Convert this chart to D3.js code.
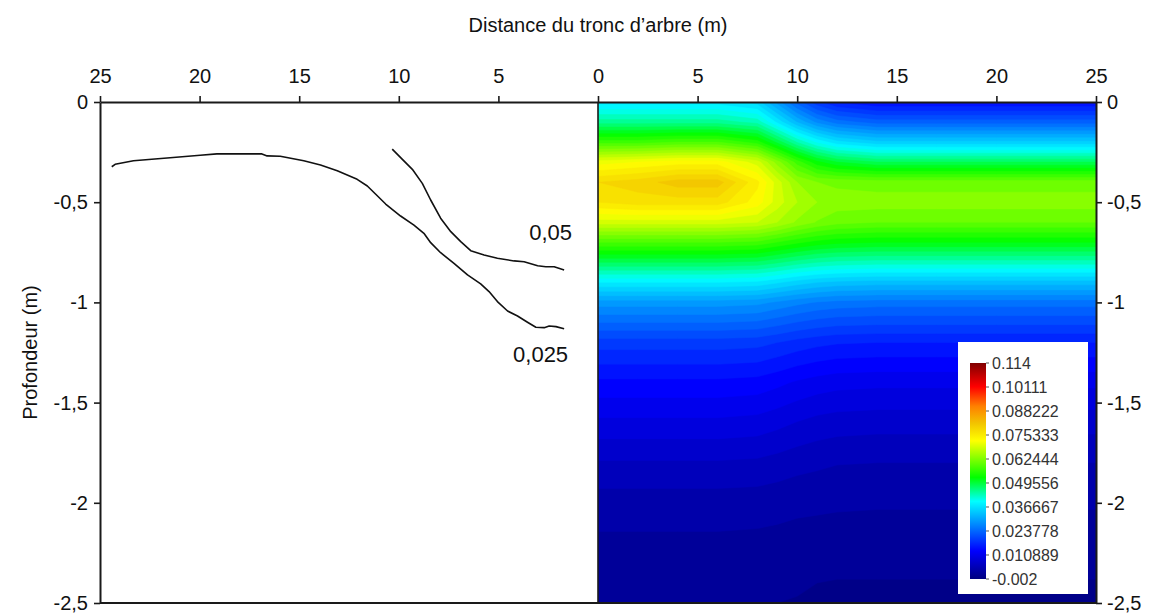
<!DOCTYPE html>
<html><head><meta charset="utf-8">
<script src="https://cdn.jsdelivr.net/npm/d3@7"></script>
<style>
body{margin:0;background:#fff;}
text{font-family:"Liberation Sans",Arial,sans-serif;}
</style>
</head><body>
<svg id="chart" width="1158" height="615"></svg>
<script>
// ---------- data ----------
const xTickValues = [-25,-20,-15,-10,-5,0,5,10,15,20,25];
const yTickValues = [0,-0.5,-1,-1.5,-2,-2.5];
const legendTicks = [0.114,0.10111,0.088222,0.075333,0.062444,0.049556,0.036667,0.023778,0.010889,-0.002];
const legendLabels = ["0.114","0.10111","0.088222","0.075333","0.062444","0.049556","0.036667","0.023778","0.010889","-0.002"];

// right panel: gridded values (rows = depth, columns = distance)
const gridDistances = [0,2,4,6,8,9,10,11,12,14,17,20,25];
const gridDepths = [0,-0.1,-0.2,-0.3,-0.4,-0.5,-0.6,-0.7,-0.8,-0.9,-1.0,-1.2,-1.4,-1.6,-1.8,-2.0,-2.2,-2.4,-2.5];
const gridValues = [
  [.037,.037,.037,.037,.035,.0290,.0230,.0185,.0157,.014,.014,.014,.014],
  [.045,.045,.045,.045,.0432,.0375,.0318,.0274,.0249,.023,.023,.023,.023],
  [.057,.057,.058,.058,.0549,.0494,.0438,.0395,.0366,.0345,.0345,.0345,.0345],
  [.071,.072,.073,.073,.069,.063,.057,.0525,.050,.048,.048,.048,.048],
  [.078,.079,.081,.081,.0745,.069,.064,.062,.0615,.061,.061,.061,.061],
  [.076,.077,.077,.077,.073,.069,.066,.064,.063,.063,.063,.063,.063],
  [.069,.069,.069,.069,.068,.066,.0636,.0618,.0607,.060,.060,.060,.060],
  [.058,.058,.058,.058,.0574,.0559,.0544,.0532,.0525,.052,.052,.052,.052],
  [.048,.048,.048,.048,.0475,.0463,.045,.044,.0434,.043,.043,.043,.043],
  [.038,.038,.038,.038,.0375,.0363,.035,.034,.0334,.033,.033,.033,.033],
  [.029,.029,.029,.029,.0286,.0276,.0266,.0258,.0253,.025,.025,.025,.025],
  [.019,.019,.019,.019,.0187,.018,.0172,.0166,.0162,.016,.016,.016,.016],
  [.0135,.0135,.0135,.0135,.0132,.0125,.0117,.0111,.0107,.0105,.0105,.0105,.0105],
  [.0095,.0095,.0095,.0095,.0092,.0086,.0079,.0073,.0070,.0068,.0068,.0068,.0068],
  [.0058,.0058,.0058,.0058,.0056,.0052,.0047,.0044,.0041,.0040,.0040,.0040,.0040],
  [.0030,.0030,.0030,.0030,.0029,.0027,.0025,.0024,.0023,.0022,.0022,.0022,.0022],
  [.0016,.0016,.0016,.0016,.0015,.0014,.0012,.0011,.0010,.0010,.0010,.0010,.0010],
  [.0006,.0006,.0006,.0006,.0005,.0004,.0002,.0000,-.0001,-.0001,-.0001,-.0001,-.0001],
  [.0003,.0003,.0003,.0003,.0002,.0000,-.0001,-.0003,-.0004,-.0004,-.0004,-.0004,-.0004]
];

// left panel: isolines [distance from trunk (m), depth (m)]
const isoline025 = [[24.41,-0.323],[24.24,-0.311],[23.32,-0.293],[21.48,-0.278],[19.97,-0.266],[19.13,-0.259],[16.87,-0.259],[16.61,-0.269],[15.95,-0.271],[14.77,-0.293],[13.93,-0.314],[13.09,-0.343],[12.09,-0.386],[11.58,-0.419],[11.17,-0.459],[10.66,-0.509],[9.91,-0.569],[9.24,-0.614],[8.74,-0.655],[8.40,-0.702],[7.90,-0.752],[7.23,-0.805],[6.55,-0.863],[5.89,-0.908],[5.47,-0.946],[5.05,-0.996],[4.54,-1.043],[4.04,-1.068],[3.54,-1.099],[3.12,-1.124],[2.70,-1.126],[2.45,-1.118],[2.11,-1.121],[1.70,-1.131]];
const isoline05 = [[10.33,-0.235],[9.82,-0.286],[9.32,-0.336],[8.82,-0.406],[8.40,-0.489],[7.90,-0.580],[7.39,-0.647],[6.89,-0.697],[6.39,-0.742],[5.72,-0.763],[5.05,-0.780],[4.21,-0.793],[3.71,-0.797],[3.03,-0.817],[2.62,-0.822],[2.20,-0.822],[1.70,-0.838]];
const isolineLabels = [{text:"0,05", d:1.3, depth:-0.69},{text:"0,025", d:1.5, depth:-1.297}];

// colour map (position in [0,1] of the legend range, colour)
const colorPositions = [0,0.13,0.245,0.36,0.47,0.64,0.72,0.8,0.89,1];
const colorList = ["#000080","#0000ff","#0080ff","#00ffff","#00ff00","#ffff00","#f2c400","#ff8000","#ff0000","#800000"];
const vMin = -0.002, vMax = 0.114, bandStep = 0.002;

// ---------- layout ----------
const svg = d3.select("#chart");
const x = d3.scaleLinear().domain([-25,25]).range([100,1096]);
const y = d3.scaleLinear().domain([0,-2.5]).range([102,603]);
const color = d3.scaleLinear()
  .domain(colorPositions.map(p => vMin + p*(vMax-vMin)))
  .range(colorList).interpolate(d3.interpolateRgb).clamp(true);

const defs = svg.append("defs");
defs.append("clipPath").attr("id","clipR").append("rect")
  .attr("x", x(0)).attr("y", y(0)).attr("width", x(25)-x(0)).attr("height", y(-2.5)-y(0));

// filled contours
const n = gridDistances.length, m = gridDepths.length;
const flat = gridValues.flat();
const thresholds = d3.range(vMin, vMax + 1e-9, bandStep);
const contours = d3.contours().size([n, m]).thresholds(thresholds)(flat);
const ix = d3.scaleLinear().domain(d3.range(n).map(i => i + 0.5)).range(gridDistances).clamp(true);
const iy = d3.scaleLinear().domain(d3.range(m).map(i => i + 0.5)).range(gridDepths).clamp(true);
const proj = d3.geoTransform({point(px, py){ this.stream.point(x(ix(px)), y(iy(py))); }});
const cpath = d3.geoPath(proj);
svg.append("g").attr("clip-path","url(#clipR)")
  .selectAll("path").data(contours).join("path")
  .attr("d", cpath)
  .attr("fill", d => color(d.value + bandStep/2))
  .attr("stroke", d => color(d.value + bandStep/2))
  .attr("stroke-width", 0.5);

// isolines on the left
const line = d3.line().x(p => x(-p[0])).y(p => y(p[1])).curve(d3.curveLinear);
[isoline025, isoline05].forEach(c => {
  svg.append("path").attr("d", line(c)).attr("fill","none")
    .attr("stroke","#111").attr("stroke-width",1.6).attr("stroke-linejoin","round");
});
svg.selectAll(".isoLbl").data(isolineLabels).join("text")
  .attr("x", d => x(-d.d)).attr("y", d => y(d.depth))
  .attr("text-anchor","end").attr("font-size",22).attr("fill","#111")
  .text(d => d.text);

// axes
const fmt = v => String(Math.abs(v)).replace(".", ",");
const fmtY = v => (v === 0 ? "0" : String(v).replace(".", ","));
const axStyle = g => {
  g.select(".domain").attr("stroke","#1a1a1a").attr("stroke-width",2);
  g.selectAll(".tick line").attr("stroke","#1a1a1a").attr("stroke-width",1.6);
  g.selectAll(".tick text").attr("font-size",20).attr("fill","#111")
    .attr("font-family","'Liberation Sans',Arial,sans-serif");
};
svg.append("g").attr("transform",`translate(0,${y(0)})`)
  .call(d3.axisTop(x).tickValues(xTickValues).tickFormat(fmt).tickSize(6).tickPadding(13).tickSizeOuter(0))
  .call(axStyle);
svg.append("g").attr("transform",`translate(${x(-25)},0)`)
  .call(d3.axisLeft(y).tickValues(yTickValues).tickFormat(fmtY).tickSize(6).tickPadding(6).tickSizeOuter(0))
  .call(axStyle);
svg.append("g").attr("transform",`translate(${x(25)},0)`)
  .call(d3.axisRight(y).tickValues(yTickValues).tickFormat(fmtY).tickSize(6).tickPadding(5).tickSizeOuter(0))
  .call(axStyle);
svg.append("line").attr("x1",x(-25)).attr("x2",x(25)).attr("y1",y(-2.5)).attr("y2",y(-2.5))
  .attr("stroke","#1a1a1a").attr("stroke-width",2);
svg.append("line").attr("x1",x(0)).attr("x2",x(0)).attr("y1",y(0)).attr("y2",y(-2.5))
  .attr("stroke","#1a1a1a").attr("stroke-width",1.6);

// titles
svg.append("text").attr("x", x(0)).attr("y", 32).attr("text-anchor","middle")
  .attr("font-size",20).attr("fill","#111").text("Distance du tronc d’arbre (m)");
svg.append("text").attr("transform",`translate(37,${(y(0)+y(-2.5))/2}) rotate(-90)`)
  .attr("text-anchor","middle").attr("font-size",20).attr("fill","#111").text("Profondeur (m)");

// legend
const lg = svg.append("g");
lg.append("rect").attr("x",958).attr("y",342).attr("width",130).attr("height",252).attr("fill","#fff");
const grad = defs.append("linearGradient").attr("id","lgGrad").attr("x1",0).attr("x2",0).attr("y1",1).attr("y2",0);
colorPositions.forEach((p,i) => grad.append("stop").attr("offset",p).attr("stop-color",colorList[i]));
const ly = d3.scaleLinear().domain([vMin, vMax]).range([579, 363]);
lg.append("rect").attr("x",970).attr("y",ly(vMax)).attr("width",16).attr("height",ly(vMin)-ly(vMax)).attr("fill","url(#lgGrad)");
lg.selectAll(".lt").data(legendTicks).join("line")
  .attr("x1",986).attr("x2",989).attr("y1",d=>ly(d)).attr("y2",d=>ly(d)).attr("stroke","#555").attr("stroke-width",1);
lg.selectAll(".ll").data(legendTicks).join("text")
  .attr("x",992).attr("y",d=>ly(d)).attr("dy","0.35em").attr("font-size",16).attr("fill","#333")
  .text((d,i)=>legendLabels[i]);
</script>
</body></html>
